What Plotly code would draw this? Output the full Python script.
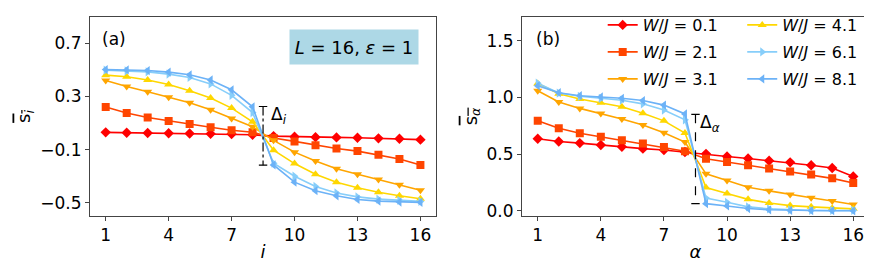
import plotly.graph_objects as go

# ---------------- data ----------------
sites = list(range(1, 17))
w_labels = ["0.1", "2.1", "3.1", "4.1", "6.1", "8.1"]
colors = ["#ff0000", "#ff4500", "#ffa500", "#ffd700", "#87cefa", "#6cb2f7"]
symbols = ["diamond", "square", "triangle-down", "triangle-up", "triangle-right", "triangle-left"]

s_i_w01 = [0.030, 0.027, 0.025, 0.023, 0.021, 0.019, 0.017, 0.012, 0.002, -0.003, -0.006, -0.008, -0.011, -0.015, -0.018, -0.025]
s_i_w21 = [0.221, 0.176, 0.142, 0.115, 0.093, 0.068, 0.046, 0.031, -0.013, -0.038, -0.067, -0.092, -0.111, -0.138, -0.170, -0.215]
s_i_w31 = [0.420, 0.375, 0.336, 0.294, 0.253, 0.201, 0.134, 0.073, -0.030, -0.119, -0.185, -0.244, -0.286, -0.325, -0.365, -0.406]
s_i_w41 = [0.461, 0.449, 0.425, 0.390, 0.343, 0.289, 0.213, 0.110, -0.104, -0.205, -0.286, -0.345, -0.387, -0.421, -0.448, -0.470]
s_i_w61 = [0.498, 0.493, 0.486, 0.469, 0.444, 0.395, 0.309, 0.179, -0.202, -0.300, -0.377, -0.426, -0.456, -0.473, -0.483, -0.490]
s_i_w81 = [0.503, 0.500, 0.496, 0.484, 0.464, 0.425, 0.351, 0.223, -0.215, -0.345, -0.409, -0.448, -0.475, -0.488, -0.495, -0.497]

s_a_w01 = [0.635, 0.611, 0.597, 0.580, 0.565, 0.548, 0.536, 0.519, 0.502, 0.479, 0.461, 0.441, 0.427, 0.401, 0.378, 0.303]
s_a_w21 = [0.793, 0.727, 0.684, 0.652, 0.623, 0.594, 0.562, 0.525, 0.459, 0.430, 0.401, 0.372, 0.346, 0.320, 0.286, 0.245]
s_a_w31 = [1.059, 0.960, 0.903, 0.857, 0.810, 0.756, 0.689, 0.606, 0.326, 0.268, 0.208, 0.176, 0.144, 0.115, 0.087, 0.055]
s_a_w41 = [1.122, 1.033, 0.986, 0.952, 0.917, 0.860, 0.793, 0.686, 0.205, 0.153, 0.101, 0.069, 0.046, 0.035, 0.023, 0.017]
s_a_w61 = [1.125, 1.038, 1.010, 0.992, 0.975, 0.943, 0.888, 0.802, 0.112, 0.075, 0.035, 0.017, 0.009, 0.003, 0.003, 0.003]
s_a_w81 = [1.102, 1.041, 1.015, 1.004, 0.992, 0.972, 0.932, 0.854, 0.063, 0.043, 0.020, 0.009, 0.003, 0.002, 0.001, 0.000]

delta_x = [8.5, 8.5]
delta_i = [0.225, -0.217]
delta_a = [0.851, 0.063]

x_ticks = [1, 4, 7, 10, 13, 16]
ya_ticks = [0.7, 0.3, -0.1, -0.5]
ya_text = ["0.7", "0.3", "\u22120.1", "\u22120.5"]
yb_ticks = [0.0, 0.5, 1.0, 1.5]
yb_text = ["0.0", "0.5", "1.0", "1.5"]

series_i = [s_i_w01, s_i_w21, s_i_w31, s_i_w41, s_i_w61, s_i_w81]
series_a = [s_a_w01, s_a_w21, s_a_w31, s_a_w41, s_a_w61, s_a_w81]

FONT = "DejaVu Sans"
fig = go.Figure()

for k in range(6):
    legend_name = "legend" if k < 3 else "legend2"
    fig.add_trace(go.Scatter(
        x=sites, y=series_i[k], mode="lines+markers", xaxis="x", yaxis="y",
        line=dict(color=colors[k], width=1.6),
        marker=dict(symbol=symbols[k], size=8, color=colors[k]),
        showlegend=False))
    fig.add_trace(go.Scatter(
        x=sites, y=series_a[k], mode="lines+markers", xaxis="x2", yaxis="y2",
        line=dict(color=colors[k], width=1.6),
        marker=dict(symbol=symbols[k], size=8, color=colors[k]),
        name="<i>W</i>/<i>J</i> = " + w_labels[k], legend=legend_name,
        legendgroup="g" + str(k), showlegend=True))

# Delta markers
fig.add_trace(go.Scatter(x=delta_x, y=delta_i, mode="lines+markers", xaxis="x", yaxis="y",
                         line=dict(color="black", width=1.2, dash="dashdot"),
                         marker=dict(symbol="line-ew", size=6, line=dict(color="black", width=1.2)),
                         showlegend=False))
fig.add_trace(go.Scatter(x=delta_x, y=delta_a, mode="lines+markers", xaxis="x2", yaxis="y2",
                         line=dict(color="black", width=1.2, dash="dash"),
                         marker=dict(symbol="line-ew", size=6, line=dict(color="black", width=1.2)),
                         showlegend=False))

axis_common = dict(showgrid=False, zeroline=False, showline=True, mirror=True,
                   linecolor="#444", linewidth=1, ticks="outside", ticklen=4,
                   tickcolor="#444", tickfont=dict(family=FONT, size=17, color="black"))

title_font = dict(family=FONT, size=18, color="black")

fig.update_layout(
    width=872, height=266, margin=dict(l=0, r=0, t=0, b=0),
    paper_bgcolor="white", plot_bgcolor="white",
    xaxis=dict(domain=[0.094, 0.491], range=[0.25, 16.75], tickvals=x_ticks, anchor="y",
               title=dict(text="<i>i</i>", font=title_font, standoff=0), **axis_common),
    yaxis=dict(domain=[0.203, 0.966], range=[-0.6, 0.9], tickvals=ya_ticks, ticktext=ya_text, anchor="x",
               title=dict(text='<span style="text-decoration:overline">s<sub><i>i</i></sub></span>',
                          font=title_font, standoff=4), **axis_common),
    xaxis2=dict(domain=[0.5894, 0.9874], range=[0.25, 16.75], tickvals=x_ticks, anchor="y2",
                title=dict(text="<i>α</i>", font=title_font, standoff=0), **axis_common),
    yaxis2=dict(domain=[0.203, 0.966], range=[-0.046, 1.71], tickvals=yb_ticks, ticktext=yb_text, anchor="x2",
                title=dict(text='<span style="text-decoration:overline">s<sub><i>α</i></sub></span>',
                           font=title_font, standoff=4), **axis_common),
    legend=dict(x=0.682, y=1.0, xanchor="left", yanchor="top", bgcolor="rgba(0,0,0,0)",
                font=dict(family=FONT, size=16, color="black"), tracegroupgap=3.2, itemwidth=30),
    legend2=dict(x=0.842, y=1.0, xanchor="left", yanchor="top", bgcolor="rgba(0,0,0,0)",
                 font=dict(family=FONT, size=16, color="black"), tracegroupgap=3.2, itemwidth=30),
    annotations=[
        dict(text="(a)", xref="paper", yref="paper", x=0.105, y=0.88, xanchor="left", yanchor="middle",
             showarrow=False, font=dict(family=FONT, size=17, color="black")),
        dict(text="(b)", xref="paper", yref="paper", x=0.603, y=0.88, xanchor="left", yanchor="middle",
             showarrow=False, font=dict(family=FONT, size=17, color="black")),
        dict(text="<i>L</i> = 16, <i>ε</i> = 1", xref="paper", yref="paper", x=0.3973, y=0.8496,
             xanchor="center", yanchor="middle", showarrow=False, bgcolor="#add8e6",
             width=128, height=34, borderpad=0, font=dict(family=FONT, size=18, color="black")),
        dict(text="Δ<sub><i>i</i></sub>", xref="x", yref="y", x=8.78, y=0.16, xanchor="left",
             yanchor="middle", showarrow=False, font=dict(family=FONT, size=17, color="black")),
        dict(text="Δ<sub><i>α</i></sub>", xref="x2", yref="y2", x=8.6, y=0.77, xanchor="left",
             yanchor="middle", showarrow=False, font=dict(family=FONT, size=17, color="black")),
    ],
)

fig.write_html("out.html")
